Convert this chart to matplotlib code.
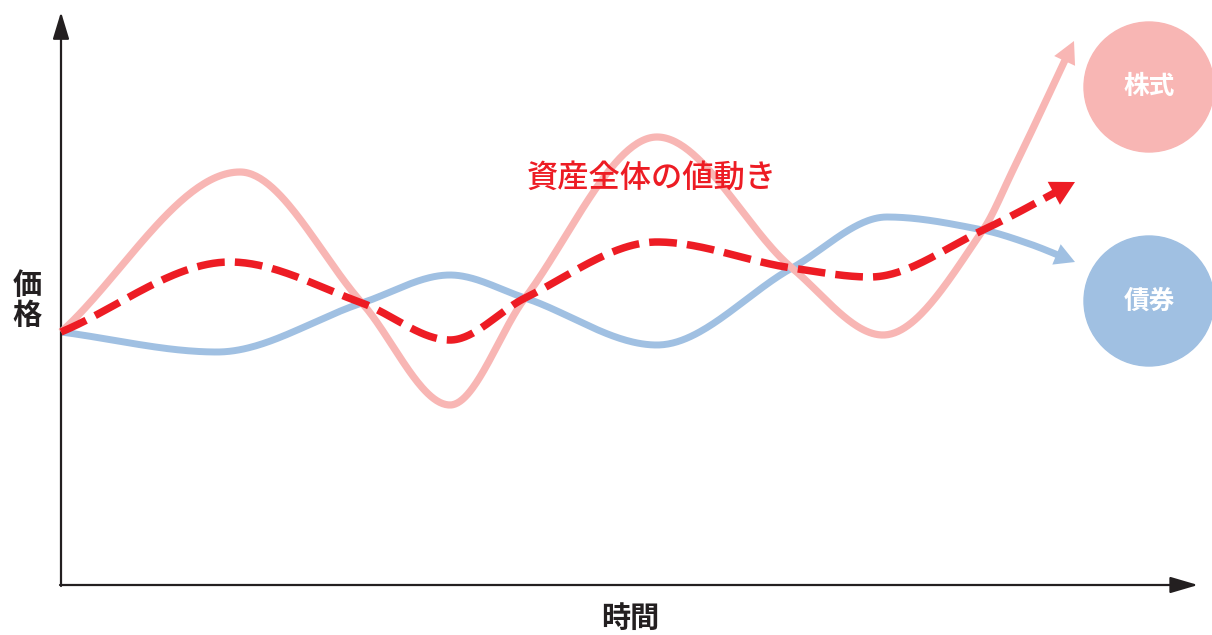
import numpy as np
import matplotlib
import matplotlib.pyplot as plt
from matplotlib.patches import Circle

matplotlib.use('Agg')
plt.rcParams['font.family'] = ['Noto Sans CJK JP', 'DejaVu Sans']

# 概念図のデータ (時間, 価格) - 原点は軸の交点
stock_t = [0, 179, 301, 389, 464, 596, 731, 822, 922, 952, 1013]
stock_p = [253, 413, 282, 180, 287, 448, 317, 250, 355, 415, 544]

bond_t = [0, 156, 301, 389, 464, 596, 731, 826, 922, 966, 1014]
bond_p = [253, 233, 282, 310, 287, 240, 317, 368, 355, 342, 323]

total_t = [0, 169, 301, 389, 464, 596, 731, 809, 922, 1014]
total_p = [253, 323, 282, 245, 287, 343, 317, 308, 355, 403]

labels = ['株式', '債券']
label_pos = [(1088, 498), (1088, 284)]
title_text = '資産全体の値動き'

PINK = '#F8B6B4'
BLUE = '#A0C0E2'
RED = '#ED1C24'
INK = '#231F20'


# 滑らかな曲線 (単調エルミート補間)
def smooth(xk, yk, n=60):
    xk = np.asarray(xk, float)
    yk = np.asarray(yk, float)
    h = np.diff(xk)
    d = np.diff(yk) / h
    m = np.zeros_like(xk)
    m[0] = d[0]
    m[-1] = d[-1]
    for k in range(1, len(xk) - 1):
        if d[k - 1] * d[k] <= 0:
            m[k] = 0
        else:
            w1 = 2 * h[k] + h[k - 1]
            w2 = h[k] + 2 * h[k - 1]
            m[k] = (w1 + w2) / (w1 / d[k - 1] + w2 / d[k])
    xs, ys = [], []
    for k in range(len(h)):
        t = np.linspace(0, 1, n, endpoint=(k == len(h) - 1))
        h00 = 2 * t**3 - 3 * t**2 + 1
        h10 = t**3 - 2 * t**2 + t
        h01 = -2 * t**3 + 3 * t**2
        h11 = t**3 - t**2
        xs.append(xk[k] + t * h[k])
        ys.append(h00 * yk[k] + h10 * h[k] * m[k] + h01 * yk[k + 1] + h11 * h[k] * m[k + 1])
    return np.concatenate(xs), np.concatenate(ys)


def draw_curve(ax, xk, yk, color, lw, head_len, head_w, ls='-', z=2):
    xs, ys = smooth(xk, yk)
    dist = np.hypot(xs - xs[-1], ys - ys[-1])
    keep = dist > head_len * 0.8
    ax.plot(xs[keep], ys[keep], color=color, lw=lw, linestyle=ls,
            solid_capstyle='butt', dash_capstyle='butt', zorder=z)
    i = np.where(dist > head_len + 5)[0][-1]
    ax.annotate('', xy=(xs[-1], ys[-1]), xytext=(xs[i], ys[i]),
                arrowprops=dict(arrowstyle=f'-|>,head_length={head_len * 0.72},head_width={head_w * 0.72}',
                                color=color, lw=0, mutation_scale=1, shrinkA=0, shrinkB=0),
                zorder=z)


fig = plt.figure(figsize=(12.12, 6.35), dpi=100)
ax = fig.add_axes([0, 0, 1, 1])
ax.set_xlim(-61, 1151)
ax.set_ylim(-50, 585)
ax.axis('off')

# 軸
ax.annotate('', xy=(0, 573), xytext=(0, -1),
            arrowprops=dict(arrowstyle='-|>,head_length=16.5,head_width=5',
                            color=INK, lw=1.6, mutation_scale=1, shrinkA=0, shrinkB=0))
ax.annotate('', xy=(1137, 0), xytext=(-1, 0),
            arrowprops=dict(arrowstyle='-|>,head_length=17,head_width=5',
                            color=INK, lw=1.6, mutation_scale=1, shrinkA=0, shrinkB=0))

# 曲線
draw_curve(ax, bond_t, bond_p, BLUE, 5.0, 20, 11, z=2)
draw_curve(ax, stock_t, stock_p, PINK, 5.2, 22, 11.5, z=3)
draw_curve(ax, total_t, total_p, RED, 5.4, 24, 13, ls=(0, (3.7, 1.35)), z=4)

# 丸いラベル
for lab, (cx, cy), col in zip(labels, label_pos, [PINK, BLUE]):
    ax.add_patch(Circle((cx, cy), 65, color=col, zorder=1))
    ax.text(cx, cy, lab, color='white', fontsize=18.5, fontweight='bold',
            ha='center', va='center', zorder=5)

ax.text(591, 407, title_text, color=RED, fontsize=22.5, fontweight='medium',
        ha='center', va='center', zorder=5)
ax.text(-34, 285, '価\n格', color=INK, fontsize=21, fontweight='bold',
        ha='center', va='center', linespacing=1.0)
ax.text(569, -33, '時間', color=INK, fontsize=21, fontweight='bold', ha='center', va='center')

plt.savefig('out.png', dpi=100)
